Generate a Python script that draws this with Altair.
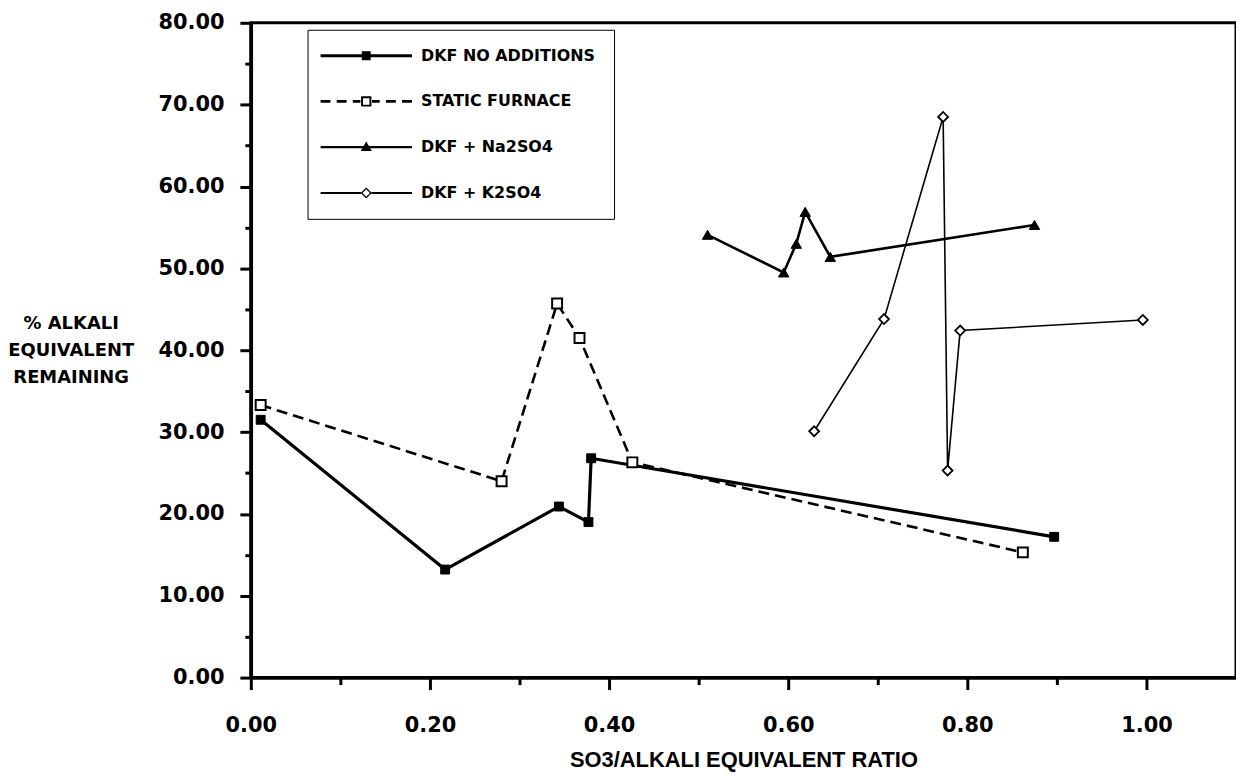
import altair as alt
import pandas as pd

# ---------------- data ----------------
series_names = ["DKF NO ADDITIONS", "STATIC FURNACE", "DKF + Na2SO4", "DKF + K2SO4"]

dkf_x = [0.011, 0.217, 0.344, 0.377, 0.380, 0.897]
dkf_y = [31.5, 13.2, 20.9, 19.0, 26.8, 17.2]

static_x = [0.011, 0.280, 0.342, 0.367, 0.426, 0.862]
static_y = [33.3, 24.0, 45.7, 41.5, 26.3, 15.3]

na_x = [0.510, 0.595, 0.609, 0.619, 0.647, 0.875]
na_y = [54.1, 49.5, 53.0, 56.9, 51.4, 55.3]

k_x = [0.629, 0.707, 0.773, 0.778, 0.792, 0.996]
k_y = [30.1, 43.8, 68.5, 25.3, 42.4, 43.7]

x_ticks = [round(i * 0.1, 1) for i in range(11)]
y_ticks = list(range(0, 81, 5))

x_title = "SO3/ALKALI EQUIVALENT RATIO"
y_title = ["% ALKALI", "EQUIVALENT", "REMAINING"]

# ---------------- table ----------------
rows = []
for name, xs, ys in zip(series_names, [dkf_x, static_x, na_x, k_x], [dkf_y, static_y, na_y, k_y]):
    for i, (xv, yv) in enumerate(zip(xs, ys)):
        rows.append({"series": name, "x": xv, "y": yv, "order": i})
df = pd.DataFrame(rows)

# ---------------- styles ----------------
line_styles = {
    "DKF NO ADDITIONS": dict(strokeWidth=3.2),
    "STATIC FURNACE": dict(strokeWidth=2.6, strokeDash=[11, 6]),
    "DKF + Na2SO4": dict(strokeWidth=2.6),
    "DKF + K2SO4": dict(strokeWidth=1.6),
}
point_styles = {
    "DKF NO ADDITIONS": dict(shape="square", fill="black", size=80, strokeWidth=1),
    "STATIC FURNACE": dict(shape="square", fill="white", size=100, strokeWidth=2),
    "DKF + Na2SO4": dict(shape="triangle-up", fill="black", size=110, strokeWidth=1),
    "DKF + K2SO4": dict(shape="diamond", fill="white", size=100, strokeWidth=1.8),
}


# legend glyphs: a line with its marker, drawn as filled outlines (unit = 4.5 px)
def hbar(a, b, t):
    return f"M{a},{-t}H{b}V{t}H{a}Z"


legend_paths = [
    hbar(-10.2, 10.2, 0.33) + "M-1,-1H1V1H-1Z",
    "".join(hbar(a, b, 0.3) for a, b in [(-10.2, -8.0), (-6.6, -4.4), (-3.0, -1.3),
                                          (1.3, 3.0), (4.4, 6.6), (8.0, 10.2)])
    + "M-1.15,-1.15H1.15V1.15H-1.15Z" + "M-0.72,-0.72V0.72H0.72V-0.72Z",
    hbar(-10.2, 10.2, 0.25) + "M0,-1.3L1.25,0.85H-1.25Z",
    hbar(-10.2, -1.2, 0.22) + hbar(1.2, 10.2, 0.22)
    + "M0,-1.25L1.25,0L0,1.25L-1.25,0Z" + "M0,-0.82L-0.82,0L0,0.82L0.82,0Z",
]

label_font = "DejaVu Sans"

x_axis = alt.Axis(
    values=x_ticks,
    labelExpr="round(datum.value * 10) % 2 === 0 ? format(datum.value, '.2f') : ''",
    tickSize={"condition": {"test": "round(datum.value * 10) % 2 === 0", "value": 12}, "value": 7},
    tickWidth=3,
    domainWidth=3.5,
    labelFont=label_font,
    labelFontWeight="bold",
    labelFontSize=21,
    labelPadding=25,
    labelFlush=False,
    title=x_title,
    titleFont="Liberation Sans",
    titleFontWeight="bold",
    titleFontSize=22,
    titlePadding=14,
)
y_axis = alt.Axis(
    values=y_ticks,
    labelExpr="datum.value % 10 === 0 ? format(datum.value, '.2f') : ''",
    tickSize={"condition": {"test": "datum.value % 10 === 0", "value": 11}, "value": 6},
    tickWidth=3,
    domainWidth=3.5,
    labelFont=label_font,
    labelFontWeight="bold",
    labelFontSize=21,
    labelPadding=16,
    labelFlush=False,
    title=y_title,
    titleFont="DejaVu Sans",
    titleFontWeight="bold",
    titleFontSize=18,
    titleAngle=0,
    titleAlign="center",
    titleBaseline="middle",
    titleLineHeight=27,
    titleX=-181,
    titleY=302,
)

base = alt.Chart(df).encode(
    x=alt.X("x:Q", scale=alt.Scale(domain=[0, 1.1], nice=False, zero=False), axis=x_axis),
    y=alt.Y("y:Q", scale=alt.Scale(domain=[0, 80], nice=False), axis=y_axis),
    order="order:Q",
)

layers = []
for name in series_names:
    layers.append(
        base.transform_filter(alt.datum.series == name).mark_line(color="black", **line_styles[name])
    )
for name in series_names:
    st = point_styles[name]
    layers.append(
        base.transform_filter(alt.datum.series == name).mark_point(
            shape=st["shape"], filled=True, fill=st["fill"], stroke="black",
            strokeWidth=st["strokeWidth"], size=st["size"], opacity=1,
        )
    )

leg = alt.Legend(
    title=None,
    orient="none",
    legendX=57,
    legendY=7,
    padding=18,
    fillColor="white",
    strokeColor="black",
    symbolSize=81,
    symbolStrokeWidth=0,
    symbolFillColor="black",
    symbolOpacity=1,
    symbolOffset=33,
    labelOffset=47,
    labelFont="DejaVu Sans",
    labelFontWeight="bold",
    labelFontSize=16,
    labelColor="black",
    labelLimit=400,
    rowPadding=30,
)

legend_df = pd.DataFrame({"series": series_names})
legend_layer = alt.Chart(legend_df).mark_point(
    opacity=0, filled=True, color="black", size=81
).encode(
    shape=alt.Shape("series:N", scale=alt.Scale(domain=series_names, range=legend_paths), legend=leg),
)

chart = alt.layer(*layers, legend_layer).properties(
    width=990,
    height=658,
    autosize=alt.AutoSizeParams(type="none"),
    padding={"left": 244, "top": 13, "right": 0, "bottom": 100},
    background="white",
).configure_view(
    stroke="black", strokeWidth=3
).configure_axis(
    grid=False, domainColor="black", tickColor="black", labelColor="black", titleColor="black"
)

chart.save("out.html", embed_options={"renderer": "svg", "actions": False})
